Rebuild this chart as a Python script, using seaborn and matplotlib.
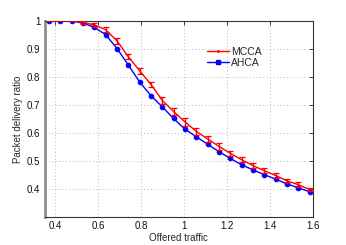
import matplotlib
matplotlib.use("Agg")
import matplotlib.pyplot as plt
import seaborn as sns
import pandas as pd
from matplotlib.lines import Line2D

offered = [0.370, 0.423, 0.476, 0.528, 0.581, 0.634, 0.687, 0.739, 0.792, 0.845, 0.898, 0.950,
           1.003, 1.056, 1.109, 1.161, 1.214, 1.267, 1.320, 1.372, 1.425, 1.478, 1.531, 1.584]
mcca = [1.000, 1.000, 1.000, 0.994, 0.985, 0.968, 0.928, 0.872, 0.822, 0.773, 0.716, 0.677,
        0.640, 0.606, 0.579, 0.553, 0.528, 0.505, 0.484, 0.466, 0.449, 0.430, 0.416, 0.399]
mcca_err = [0.002, 0.002, 0.002, 0.004, 0.006, 0.008, 0.010, 0.010, 0.010, 0.010, 0.011, 0.012,
            0.014, 0.012, 0.010, 0.012, 0.009, 0.008, 0.010, 0.008, 0.008, 0.007, 0.008, 0.007]
ahca = [1.000, 1.000, 1.000, 0.991, 0.977, 0.950, 0.901, 0.843, 0.782, 0.733, 0.693, 0.652,
        0.614, 0.587, 0.560, 0.534, 0.510, 0.487, 0.469, 0.452, 0.436, 0.419, 0.405, 0.391]
xticks = [0.4, 0.6, 0.8, 1.0, 1.2, 1.4, 1.6]
xticklabels = ["0.4", "0.6", "0.8", "1", "1.2", "1.4", "1.6"]
yticks = [0.4, 0.5, 0.6, 0.7, 0.8, 0.9, 1.0]
yticklabels = ["0.4", "0.5", "0.6", "0.7", "0.8", "0.9", "1"]

sns.set_style("white")
plt.rcParams['font.family'] = ['Liberation Sans', 'DejaVu Sans']

df = pd.DataFrame({"x": offered, "MCCA": mcca, "AHCA": ahca})

fig = plt.figure(figsize=(3.46, 2.45), dpi=100)
ax = fig.add_axes([0.129, 0.113, 0.776, 0.8025])

sns.lineplot(data=df, x="x", y="AHCA", ax=ax, color="#0000ff", lw=1.0,
             marker="o", markersize=3.3, markeredgecolor="#0000ff", zorder=3)
sns.lineplot(data=df, x="x", y="MCCA", ax=ax, color="#ff0000", lw=1.0, zorder=4)
ax.errorbar(offered, mcca, yerr=mcca_err, fmt="none", ecolor="#ff0000",
            elinewidth=0.9, capsize=2.0, capthick=0.9, zorder=4)

ax.set_xlim(0.35, 1.6)
ax.set_ylim(0.3, 1.0)
ax.set_xticks(xticks)
ax.set_xticklabels(xticklabels)
ax.set_yticks(yticks)
ax.set_yticklabels(yticklabels)
ax.grid(True, linestyle=(0, (1, 2.5)), color="#b8b8b8", lw=0.7)
ax.tick_params(direction="in", length=3, width=0.6, labelsize=7, pad=3,
               top=True, right=True, colors="#222222")
ax.tick_params(axis="both", labelcolor="#111111")
for s in ["top", "right", "bottom"]:
    ax.spines[s].set_color("#333333")
    ax.spines[s].set_linewidth(0.8)
ax.spines["left"].set_color("#909090")
ax.spines["left"].set_linewidth(2.0)

ax.set_xlabel("Offered traffic", fontsize=7, labelpad=1)
ax.set_ylabel("Packet delivery ratio", fontsize=7, labelpad=3)

handles = [Line2D([], [], color="#ff0000", lw=1.0, marker=".", markersize=2),
           Line2D([], [], color="#0000ff", lw=1.0, marker="s", markersize=2.5)]
ax.legend(handles, ["MCCA", "AHCA"], loc="upper left", bbox_to_anchor=(0.605, 0.868),
          frameon=False, fontsize=7.5, handlelength=2.1, handletextpad=0.2,
          labelspacing=0.1, borderpad=0, borderaxespad=0)

fig.savefig("out.png", dpi=100)
